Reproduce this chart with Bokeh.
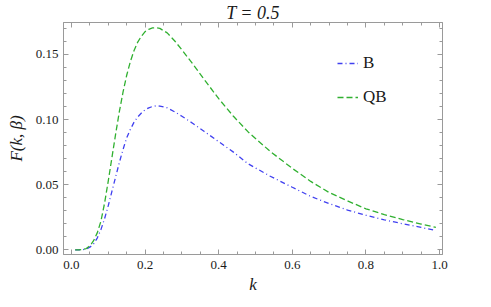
from bokeh.plotting import figure
from bokeh.models import (Range1d, LinearAxis, SingleIntervalTicker, NumeralTickFormatter,
                          CustomJSTickFormatter, Legend, LegendItem)
from bokeh.embed import file_html
from bokeh.resources import INLINE

# ---- data ----
k_vals = [0.01, 0.02, 0.03, 0.04, 0.05, 0.06, 0.07, 0.08, 0.09, 0.10, 0.11, 0.12, 0.13,
          0.14, 0.15, 0.16, 0.17, 0.18, 0.19, 0.20, 0.21, 0.22, 0.23, 0.24, 0.26, 0.28,
          0.30, 0.33, 0.36, 0.40, 0.44, 0.48, 0.54, 0.60, 0.65, 0.70, 0.75, 0.80, 0.85,
          0.90, 0.95, 0.99]
F_B = [0.0, 0.0, 0.0001, 0.0006, 0.002, 0.0045, 0.009, 0.0155, 0.024, 0.034, 0.045, 0.056,
       0.067, 0.077, 0.086, 0.0925, 0.098, 0.102, 0.105, 0.1075, 0.109, 0.110, 0.1106, 0.1103,
       0.109, 0.106, 0.1025, 0.097, 0.091, 0.083, 0.075, 0.066, 0.0565, 0.048, 0.041, 0.0355,
       0.0305, 0.0265, 0.023, 0.020, 0.0172, 0.0148]
F_QB = [0.0, 0.0, 0.0002, 0.001, 0.003, 0.007, 0.013, 0.022, 0.036, 0.053, 0.071, 0.089,
        0.106, 0.121, 0.134, 0.1445, 0.153, 0.1595, 0.164, 0.1675, 0.1693, 0.1703, 0.1705,
        0.170, 0.1665, 0.1605, 0.1535, 0.1425, 0.131, 0.116, 0.1025, 0.0905, 0.0755, 0.0625,
        0.0525, 0.044, 0.0375, 0.0315, 0.027, 0.0232, 0.0198, 0.0172]
series_names = ["B", "QB"]
title_text = "T = 0.5"
x_label = "k"
y_label = "F(k, β)"

SERIF = "Liberation Serif"
FRAME = "#9a9a9a"
TXT = "#1a1a1a"

p = figure(width=491, height=307, output_backend="svg", toolbar_location=None,
           x_range=Range1d(-0.0217, 1.008), y_range=Range1d(-0.0036, 0.1745),
           min_border_left=63, min_border_right=49, min_border_top=0, min_border_bottom=53)
p.xgrid.visible = False
p.ygrid.visible = False
p.outline_line_color = FRAME
p.background_fill_color = "white"

p.title.text = title_text
p.title.align = "center"
p.title.text_font = SERIF
p.title.text_font_style = "italic"
p.title.text_font_size = "18px"
p.title.text_color = TXT
p.title.standoff = 0
p.title.offset = 0

def style_axis(ax, show_labels):
    ax.axis_line_color = FRAME
    ax.major_tick_line_color = FRAME
    ax.minor_tick_line_color = FRAME
    ax.major_tick_in = 5
    ax.major_tick_out = 0
    ax.minor_tick_in = 3
    ax.minor_tick_out = 0
    ax.major_label_text_font = SERIF
    ax.major_label_text_color = TXT
    ax.major_label_text_font_size = "13px"
    ax.axis_label_text_font = SERIF
    ax.axis_label_text_color = TXT
    ax.axis_label_text_font_style = "italic"
    ax.axis_label_text_font_size = "17px"
    if not show_labels:
        ax.formatter = CustomJSTickFormatter(code="return '';")
        ax.major_label_standoff = 0

xa = p.xaxis[0]
xa.ticker = SingleIntervalTicker(interval=0.2, num_minor_ticks=4)
xa.formatter = NumeralTickFormatter(format="0.0")
style_axis(xa, True)
xa.major_label_standoff = 6
xa.axis_label = x_label
xa.axis_label_standoff = 3

ya = p.yaxis[0]
ya.ticker = SingleIntervalTicker(interval=0.05, num_minor_ticks=5)
ya.formatter = NumeralTickFormatter(format="0.00")
style_axis(ya, True)
ya.major_label_standoff = 5
ya.axis_label = y_label
ya.axis_label_standoff = 7

top = LinearAxis(ticker=SingleIntervalTicker(interval=0.2, num_minor_ticks=4))
style_axis(top, False)
p.add_layout(top, "above")
right = LinearAxis(ticker=SingleIntervalTicker(interval=0.05, num_minor_ticks=5))
style_axis(right, False)
p.add_layout(right, "right")

rB = p.line(k_vals, F_B, line_color="#4040f0", line_width=1.3, line_dash="5 3 1 3")
rQB = p.line(k_vals, F_QB, line_color="#30b030", line_width=1.3, line_dash="6 3")

legend = Legend(items=[LegendItem(label=series_names[0], renderers=[rB]),
                       LegendItem(label=series_names[1], renderers=[rQB])],
                location=(274, 147), padding=0, margin=0, spacing=14,
                label_height=20, glyph_height=20, glyph_width=21, label_standoff=5,
                border_line_color=None, background_fill_alpha=0,
                label_text_font=SERIF, label_text_font_size="17px", label_text_color=TXT)
p.add_layout(legend, "center")

open("out.html", "w").write(file_html(p, INLINE))
